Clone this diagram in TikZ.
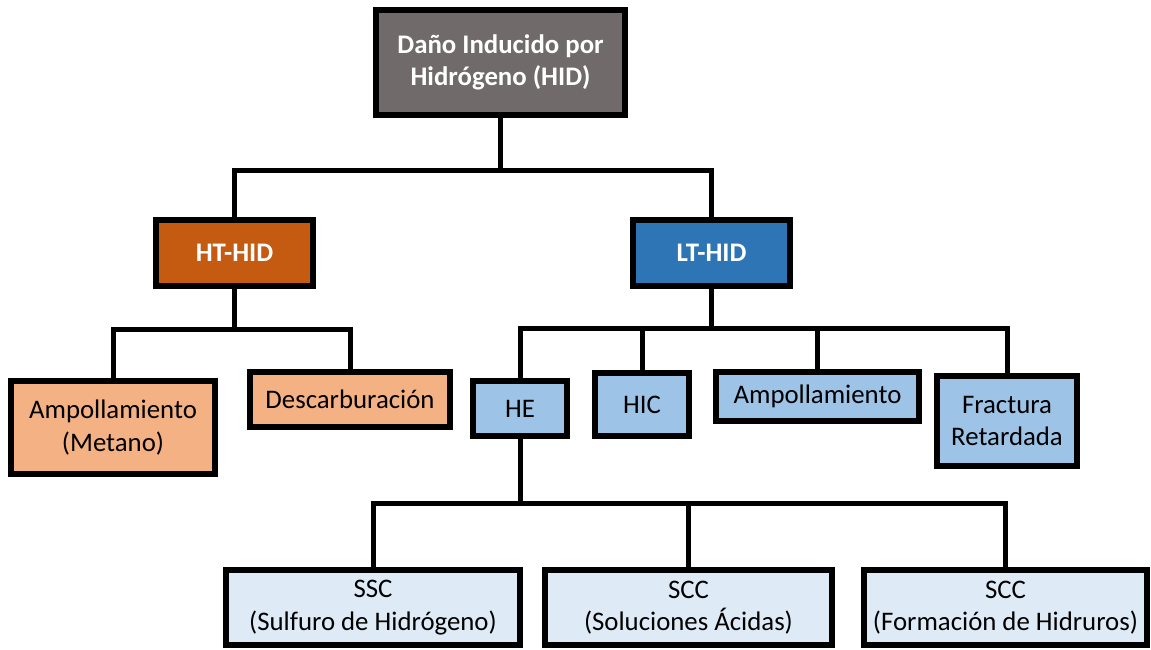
\documentclass[tikz,border=0pt]{standalone}
\usepackage{fontspec}
\setmainfont{Carlito}
\definecolor{raiz}{RGB}{112,106,106}
\definecolor{naranja}{RGB}{197,90,17}
\definecolor{naranjaclaro}{RGB}{244,177,131}
\definecolor{azul}{RGB}{46,117,182}
\definecolor{azulclaro}{RGB}{157,195,230}
\definecolor{azulpalido}{RGB}{222,235,247}
\tikzset{
	caja/.style={draw=black, line width=3pt, inner sep=0pt, align=center, font=\fontsize{13.4}{16.3}\selectfont},
	titulo/.style={caja, text=white, font=\fontsize{13.4}{16.3}\selectfont\bfseries},
	enlace/.style={line width=2.5pt, line cap=rect, line join=miter},
}

\begin{document}
\begin{tikzpicture}[x=0.5pt, y=-0.5pt]
			%%%%% START %%%%%
			\useasboundingbox (0, 0) rectangle (1151, 649);
			
			\node[titulo, fill=raiz, minimum width=124.5pt, minimum height=52.5pt] (hid) at (500.5, 62.5) {Daño Inducido por\\Hidrógeno (HID)};
			
			\node[titulo, fill=naranja, minimum width=78.5pt, minimum height=33pt] (ht) at (234.5, 253) {HT-HID};
			\node[titulo, fill=azul, minimum width=78.5pt, minimum height=33pt] (lt) at (711.5, 253) {LT-HID};
			
			\node[caja, fill=naranjaclaro, minimum width=102pt, minimum height=46.5pt] (metano) at (113, 427.5) {Ampollamiento\\(Metano)};
			\node[caja, fill=naranjaclaro, minimum width=100pt, minimum height=27.5pt] (descarb) at (350, 399.5) {Descarburación};
			
			\node[caja, fill=azulclaro, minimum width=47pt, minimum height=27.5pt] (he) at (520, 408.5) {HE};
			\node[caja, fill=azulclaro, minimum width=47pt, minimum height=31.5pt] (hic) at (642, 404.5) {HIC};
			\node[caja, fill=azulclaro, minimum width=101.5pt, minimum height=24.5pt] (ampolla) at (817.5, 396.5) {Ampollamiento};
			\node[caja, fill=azulclaro, minimum width=70pt, minimum height=45pt] (fractura) at (1007, 421) {Fractura\\Retardada};
			
			\node[caja, fill=azulpalido, minimum width=147pt, minimum height=37.5pt] (ssc) at (373, 607.5) {SSC\\(Sulfuro de Hidrógeno)};
			\node[caja, fill=azulpalido, minimum width=143.5pt, minimum height=37.5pt] (sccacid) at (688.5, 607.5) {SCC\\(Soluciones Ácidas)};
			\node[caja, fill=azulpalido, minimum width=141.5pt, minimum height=37.5pt] (sccfor) at (1005.5, 607.5) {SCC\\(Formación de Hidruros)};
			
			% ramas
			\coordinate (r1) at (505, 170);
			\coordinate (r2) at (239, 329);
			\coordinate (r3) at (716, 328);
			\coordinate (r4) at (520, 503);
			
			\draw[enlace] (hid.south) -- (hid.south |- r1);
			\draw[enlace] (ht.north) |- (r1) -| (lt.north);
			
			\draw[enlace] (ht.south) -- (ht.south |- r2);
			\draw[enlace] (metano.north) |- (r2) -| (descarb.north);
			
			\draw[enlace] (lt.south) -- (lt.south |- r3);
			\draw[enlace] (he.north) |- (r3) -| (fractura.north);
			\draw[enlace] (hic.north) -- (hic.north |- r3);
			\draw[enlace] (ampolla.north) -- (ampolla.north |- r3);
			
			\draw[enlace] (he.south) -- (he.south |- r4);
			\draw[enlace] (ssc.north) |- (r4) -| (sccfor.north);
			\draw[enlace] (sccacid.north) -- (sccacid.north |- r4);
			%%%%% END %%%%%
\end{tikzpicture}
\end{document}
